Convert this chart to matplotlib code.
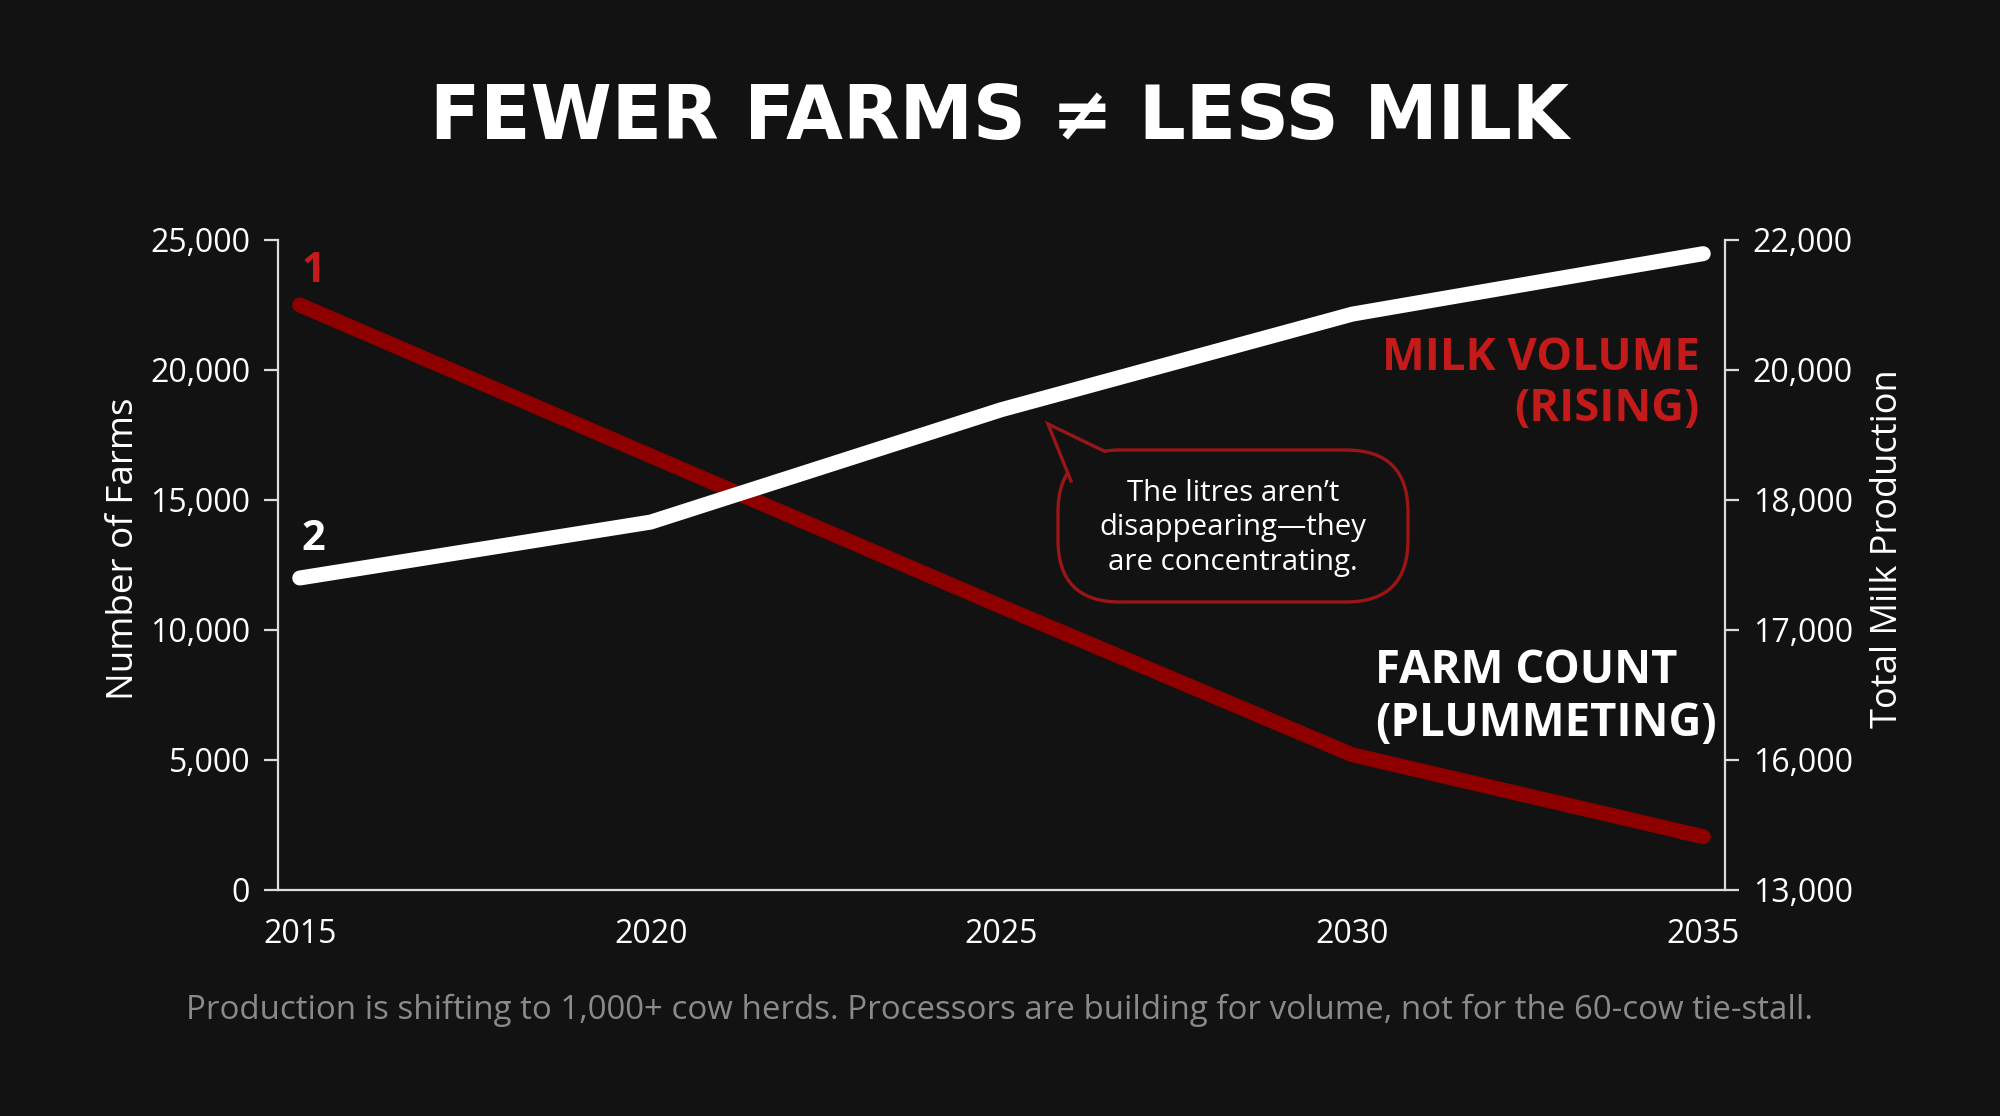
import numpy as np
import matplotlib
matplotlib.use("Agg")
from matplotlib import pyplot as plt
from matplotlib.patches import FancyBboxPatch, Polygon
from matplotlib.transforms import Affine2D

years = [2015, 2020, 2025, 2030, 2035]
farm_count = [22500, 16700, 10900, 5200, 2050]
milk_volume = [17400, 17830, 19390, 20860, 21790]

farm_ticks = [0, 5000, 10000, 15000, 20000, 25000]
milk_ticks = [13000, 16000, 17000, 18000, 20000, 22000]

title = "FEWER FARMS \u2260 LESS MILK"
note = "Production is shifting to 1,000+ cow herds. Processors are building for volume, not for the 60-cow tie-stall."
bubble_text = "The litres aren\u2019t\ndisappearing\u2014they\nare concentrating."

BG = "#121212"
RED = "#8e0000"
RED_TXT = "#c41a1a"
AXC = "#dcdcdc"

plt.rcParams["font.family"] = ["Open Sans", "DejaVu Sans"]

W, H, DPI = 2000, 1116, 200
fig = plt.figure(figsize=(W / DPI, H / DPI), dpi=DPI, facecolor=BG)
ax = fig.add_axes([278 / W, 1 - 890 / H, (1725 - 278) / W, (890 - 240) / H])
ax.set_facecolor(BG)

ax.plot(years, farm_count, color=RED, lw=5.4, solid_capstyle="round", solid_joinstyle="round", zorder=3)
ax.set_xlim(2014.69, 2035.31)
ax.set_ylim(0, 25000)
ax.set_xticks(years)
ax.set_yticks(farm_ticks)
ax.set_yticklabels([f"{v:,}" for v in farm_ticks])
ax.tick_params(axis="y", colors=AXC, labelcolor="white", labelsize=11.5, length=5, width=0.8, pad=5)
ax.tick_params(axis="x", colors=AXC, labelcolor="white", labelsize=11.5, length=0, pad=10)
ax.set_ylabel("Number of Farms", color="white", fontsize=13.3, labelpad=3)
ax.yaxis.label.set_y(0.525)
for s in ["top", "right"]:
    ax.spines[s].set_visible(False)
for s in ["left", "bottom"]:
    ax.spines[s].set_color(AXC)
    ax.spines[s].set_linewidth(0.8)

# right axis: uneven tick values at even spacing
pos = np.arange(len(milk_ticks), dtype=float)
def fwd(v):
    return np.interp(v, milk_ticks, pos)
def inv(p):
    return np.interp(p, pos, milk_ticks)

ax2 = ax.twinx()
ax2.set_yscale("function", functions=(fwd, inv))
ax2.plot(years, milk_volume, color="white", lw=5.4, solid_capstyle="round", solid_joinstyle="round", zorder=4)
ax2.set_ylim(milk_ticks[0], milk_ticks[-1])
ax2.set_yticks(milk_ticks)
ax2.set_yticklabels([f"{v:,}" for v in milk_ticks])
ax2.yaxis.set_minor_locator(matplotlib.ticker.NullLocator())
ax2.tick_params(axis="y", colors=AXC, labelcolor="white", labelsize=11.5, length=5, width=0.8, pad=5)
ax2.set_ylabel("Total Milk Production", color="white", fontsize=13, labelpad=6)
ax2.yaxis.label.set_y(0.525)
for s in ["top", "left", "bottom"]:
    ax2.spines[s].set_visible(False)
ax2.spines["right"].set_color(AXC)
ax2.spines["right"].set_linewidth(0.8)

# series numbers
ax.annotate("1", (years[0], farm_count[0]), xytext=(5, 12), textcoords="offset points",
            color=RED_TXT, fontsize=15, fontweight="bold", ha="center", va="center")
ax2.annotate("2", (years[0], milk_volume[0]), xytext=(5, 14), textcoords="offset points",
             color="white", fontsize=15, fontweight="bold", ha="center", va="center")

# pixel transform (origin top-left)
px = Affine2D().scale(1 / DPI, -1 / DPI).translate(0, H / DPI) + fig.dpi_scale_trans

fig.text(1700 / W, 1 - 384 / H, "MILK VOLUME\n(RISING)", color=RED_TXT, fontsize=16.3, fontweight="bold",
         ha="right", va="center", linespacing=1.15)
fig.text(1375 / W, 1 - 697 / H, "FARM COUNT\n(PLUMMETING)", color="white", fontsize=16.4, fontweight="bold",
         ha="left", va="center", linespacing=1.15)

# speech bubble
box = FancyBboxPatch((1058, 450), 350, 152, boxstyle="round,pad=0,rounding_size=62",
                     transform=px, facecolor=BG, edgecolor="#9a1616", lw=1.2, zorder=5)
fig.add_artist(box)
tip, j1, j2 = (1048, 424), (1104, 451), (1071, 481)
fig.add_artist(Polygon([tip, j1, (1110, 470), (1078, 490), j2], closed=True, transform=px,
                       facecolor=BG, edgecolor="none", zorder=6))
fig.add_artist(plt.Line2D([j1[0], tip[0], j2[0]], [j1[1], tip[1], j2[1]], transform=px,
                          color="#9a1616", lw=1.2, zorder=7, solid_joinstyle="miter"))
fig.text(1233 / W, 1 - 528 / H, bubble_text, color="white", fontsize=10.6, ha="center", va="center",
         linespacing=1.25, zorder=8)

fig.text(0.5, 1 - 119 / H, title, color="white", fontsize=26.5, fontweight="bold",
         family=["DejaVu Sans"], ha="center", va="center")
fig.text(0.5, 1 - 1010 / H, note, color="#8a8a8a", fontsize=11.9, ha="center", va="center")

fig.savefig("out.png", dpi=DPI, facecolor=BG)
